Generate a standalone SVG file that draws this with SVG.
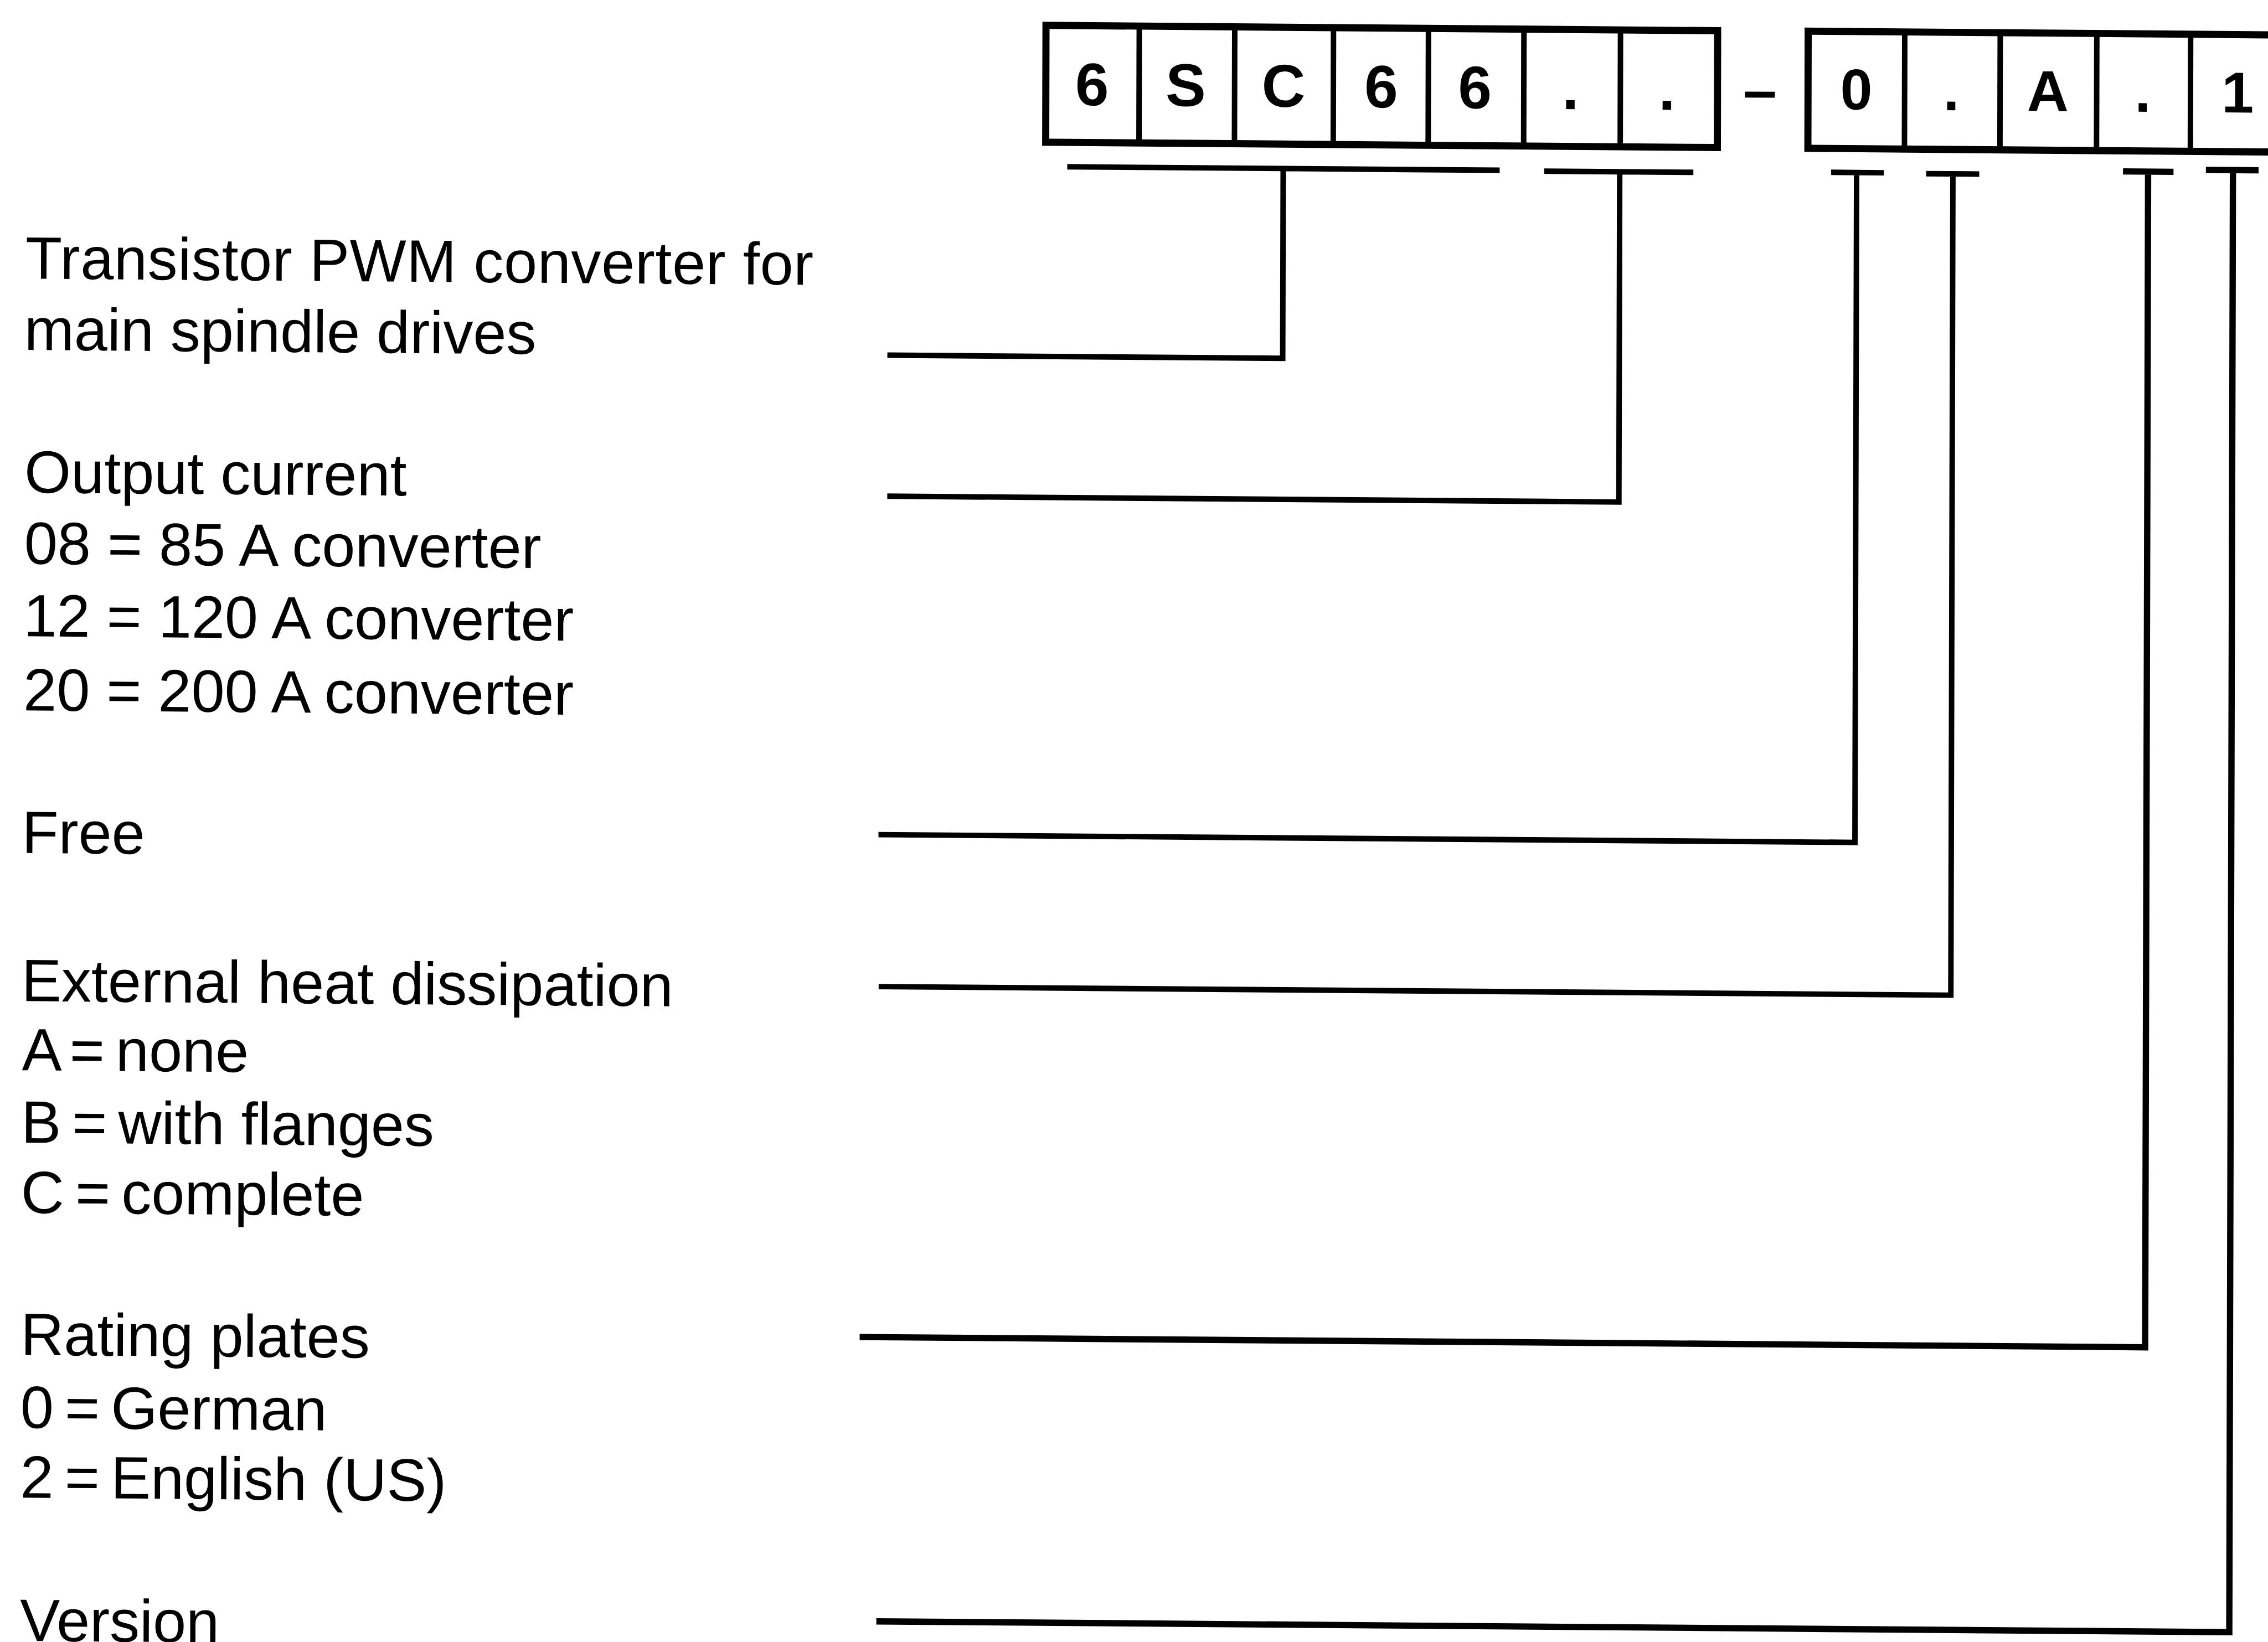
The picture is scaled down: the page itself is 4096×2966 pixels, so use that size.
<svg xmlns="http://www.w3.org/2000/svg" width="4096" height="2966" viewBox="0 0 4096 2966">
<style>
.lbl{font-family:"Liberation Sans",Arial,Helvetica,sans-serif;font-size:109px;fill:#000}
.ch{font-family:"Liberation Sans",Arial,Helvetica,sans-serif;font-weight:bold;fill:#000;text-anchor:middle}
.r1{font-size:110px}
.r2{font-size:105px}
.box{fill:none;stroke:#000;stroke-width:13}
.div{stroke:#000;stroke-width:10}
.con{fill:none;stroke:#000;stroke-width:10;stroke-linecap:butt;stroke-linejoin:miter}
.con.thick{stroke-width:11.5}
</style>
<rect width="4096" height="2966" fill="#fff"/>
<g transform="scale(0.991) matrix(1,0.008,-0.0025,1,3.74,-16.52)">
  <g id="code">
    <g id="code-box-1">
      <rect class="box" x="1902.6" y="47.5" width="1224" height="213"/>
      <line class="div" x1="2072.6" y1="47.5" x2="2072.6" y2="260.5"/>
      <line class="div" x1="2246.6" y1="47.5" x2="2246.6" y2="260.5"/>
      <line class="div" x1="2426.6" y1="47.5" x2="2426.6" y2="260.5"/>
      <line class="div" x1="2599.6" y1="47.5" x2="2599.6" y2="260.5"/>
      <line class="div" x1="2773.6" y1="47.5" x2="2773.6" y2="260.5"/>
      <line class="div" x1="2949.6" y1="47.5" x2="2949.6" y2="260.5"/>
      <text class="ch r1" x="1986.6" y="192.5">6</text>
      <text class="ch r1" x="2157.6" y="192.5">S</text>
      <text class="ch r1" x="2335.6" y="192.5">C</text>
      <text class="ch r1" x="2513.6" y="192.5">6</text>
      <text class="ch r1" x="2684.6" y="192.5">6</text>
      <text class="ch r1" x="2858.6" y="192.5">.</text>
      <text class="ch r1" x="3034.6" y="192.5">.</text>
    </g>
    <g id="code-dash">
      <text class="ch r1" x="3204" y="193">–</text>
    </g>
    <g id="code-box-2">
      <rect class="box" x="3291.6" y="47" width="872" height="213.5"/>
      <line class="div" x1="3467.6" y1="47" x2="3467.6" y2="260.5"/>
      <line class="div" x1="3641.6" y1="47" x2="3641.6" y2="260.5"/>
      <line class="div" x1="3817.6" y1="47" x2="3817.6" y2="260.5"/>
      <line class="div" x1="3988.6" y1="47" x2="3988.6" y2="260.5"/>
      <text class="ch r2" x="3379.6" y="189">0</text>
      <text class="ch r2" x="3552.6" y="189">.</text>
      <text class="ch r2" x="3728.6" y="189">A</text>
      <text class="ch r2" x="3901.6" y="189">.</text>
      <text class="ch r2" x="4074.6" y="189">1</text>
    </g>
  </g>
  <g id="label-type">
    <text class="lbl" x="44" y="524" textLength="1436" lengthAdjust="spacing">Transistor PWM converter for</text>
    <text class="lbl" x="42" y="654">main spindle drives</text>
  </g>
  <g id="label-current">
    <text class="lbl" x="43" y="914">Output current</text>
    <text class="lbl" x="43" y="1044">08 = 85 A converter</text>
    <text class="lbl" x="42" y="1176">12 = 120 A converter</text>
    <text class="lbl" x="42" y="1311">20 = 200 A converter</text>
  </g>
  <g id="label-free">
    <text class="lbl" x="40" y="1571">Free</text>
  </g>
  <g id="label-heat">
    <text class="lbl" x="40" y="1841">External heat dissipation</text>
    <text class="lbl" x="41" y="1967" dx="0 0 -10 0 -10">A = none</text>
    <text class="lbl" x="40" y="2099" dx="0 0 -10 0 -10">B = with flanges</text>
    <text class="lbl" x="40" y="2227" dx="0 0 -10 0 -10">C = complete</text>
  </g>
  <g id="label-plates">
    <text class="lbl" x="40" y="2486">Rating plates</text>
    <text class="lbl" x="40" y="2619" dx="0 0 -10 0 -10">0 = German</text>
    <text class="lbl" x="40" y="2746" dx="0 0 -10 0 -10">2 = English (US)</text>
  </g>
  <g id="label-version">
    <text class="lbl" x="40" y="3007">Version</text>
  </g>
  <g id="connectors">
    <path class="con" d="M1942,305 H2730 M2335.5,305 V651 H1615"/>
    <path class="con" d="M2811,306 H3083 M2948.8,306 V908 H1615.5"/>
    <path class="con" d="M3334,304 H3430 M3380.5,304 V1525 H1601"/>
    <path class="con" d="M3507,305 H3604 M3556,305 V1802 H1602"/>
    <path class="con thick" d="M3866,298 H3958 M3911.7,298 V2441 H1569"/>
    <path class="con thick" d="M4017,294 H4113 M4066.3,294 V2959 H1600.7"/>
  </g>
</g>
</svg>
